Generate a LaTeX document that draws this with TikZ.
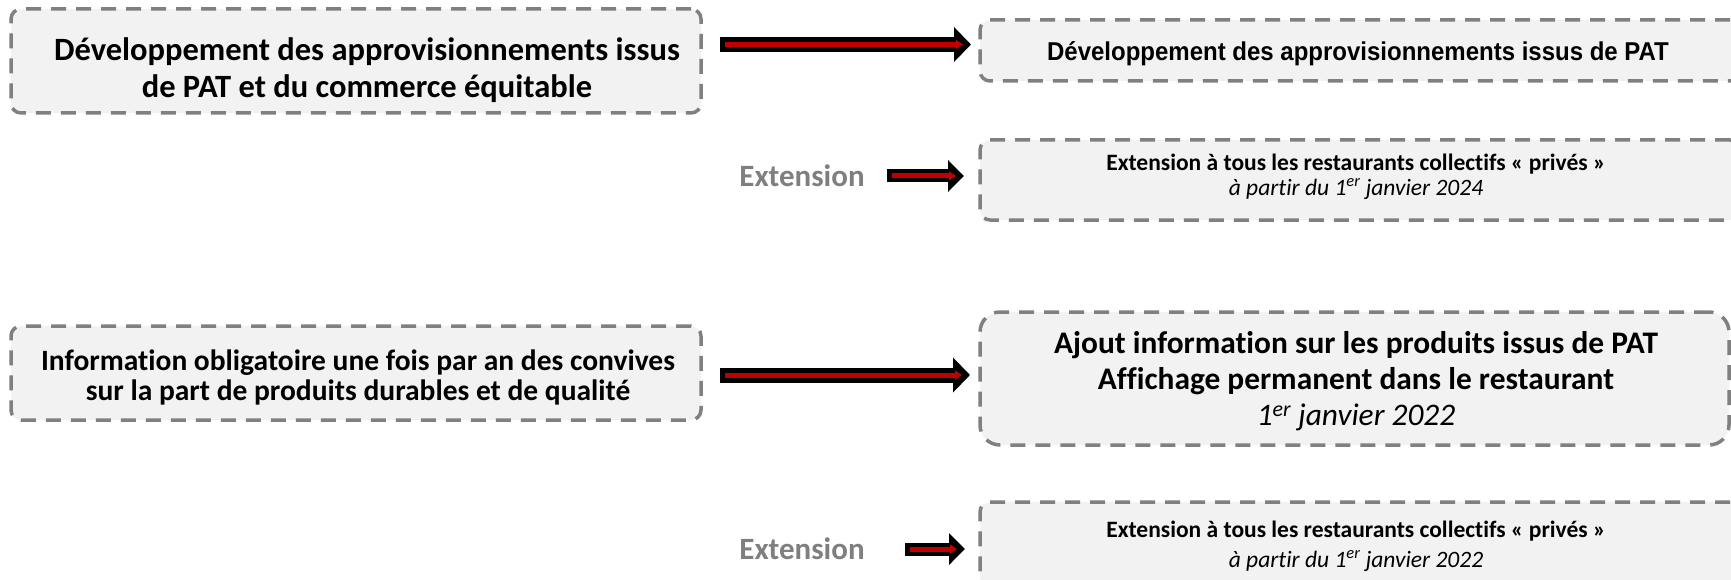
\documentclass[tikz,border=0pt]{standalone}
\usepackage{fontspec}
\setmainfont{Carlito}[Ligatures=NoCommon]
\newfontfamily\arialfam{Liberation Sans}
\usetikzlibrary{arrows.meta}
\definecolor{boxfill}{HTML}{F2F2F2}
\definecolor{boxdraw}{HTML}{808080}
\definecolor{arrred}{HTML}{C00000}
\definecolor{extgray}{HTML}{7F7F7F}
\tikzset{
  dbox/.style={draw=boxdraw, fill=boxfill, line width=3.5pt, dash pattern=on 15pt off 10pt,
    rounded corners=10pt, inner sep=0pt},
  btext/.style={align=center, text=black, inner sep=0pt},
  fatarrow/.style={line width=15pt, draw=black, -{Triangle[length=17pt,width=34pt]}},
  smallfat/.style={line width=13pt, draw=black, -{Triangle[length=16pt,width=31pt]}},
  redline/.style={line width=5pt, draw=arrred, -{Triangle[length=7pt,width=9pt]}},
  extlabel/.style={text=extgray, font=\fontsize{31}{36}\selectfont\bfseries, inner sep=0pt}
}
\begin{document}
\begin{tikzpicture}[x=1pt,y=-1pt]
\useasboundingbox (0,0) rectangle (1731,580);
\clip (0,0) rectangle (1731,580);
% boxes
\node[dbox, minimum width=690pt, minimum height=104pt] (b1) at (356,61) {};
\node[dbox, minimum width=690pt, minimum height=94pt] (b4) at (356,373) {};
\node[dbox, minimum width=760pt, minimum height=61pt] (b2) at (1360,50.5) {};
\node[dbox, minimum width=760pt, minimum height=80pt] (b3) at (1360,180) {};
\node[dbox, rounded corners=20pt, minimum width=749pt, minimum height=133pt] (b5) at (1354.5,378.5) {};
\node[dbox, minimum width=760pt, minimum height=86pt] (b6) at (1360,545) {};
% texts
\node[btext, font=\fontsize{32.5}{37}\selectfont\bfseries] (t1) at (367,70)
  {Développement des approvisionnements issus\\de PAT et du commerce équitable};
\node[btext, font=\fontsize{29.5}{30}\selectfont\bfseries] (t4) at (358,377)
  {Information obligatoire une fois par an des convives\\sur la part de produits durables et de qualité};
\node[btext] (t2) at (1358,54)
  {\arialfam\fontsize{25.8}{30}\selectfont\bfseries\scalebox{0.93}[1]{Développement des approvisionnements issus de PAT}};
\node[btext, font=\fontsize{23.5}{25.5}\selectfont] (t3) at (1356,177)
  {\textbf{Extension à tous les restaurants collectifs « privés »}\\\textit{à partir du 1\textsuperscript{er} janvier 2024}};
\node[btext, font=\fontsize{31.4}{36}\selectfont] (t5) at (1356,381)
  {\textbf{Ajout information sur les produits issus de PAT}\\\textbf{Affichage permanent dans le restaurant}\\\textit{1\textsuperscript{er} janvier 2022}};
\node[btext, font=\fontsize{23.5}{30.5}\selectfont] (t6) at (1356,546.5)
  {\textbf{Extension à tous les restaurants collectifs « privés »}\\\textit{à partir du 1\textsuperscript{er} janvier 2022}};
% extension labels
\node[extlabel] (e1) at (802,175.5) {Extension};
\node[extlabel] (e2) at (802,549) {Extension};
% arrow end points
\coordinate (a1s) at (720,44.5);
\coordinate (a1e) at (971,44.5);
\coordinate (a2s) at (720,375);
\coordinate (a2e) at (970,375);
\coordinate (a3s) at (887,176);
\coordinate (a3e) at (964,176);
\coordinate (a4s) at (905,549);
\coordinate (a4e) at (965,549);
% arrows
\draw[fatarrow] (a1s) -- (a1e);
\draw[redline] ([xshift=5pt]a1s) -- ([xshift=-8pt]a1e);
\draw[fatarrow] (a2s) -- (a2e);
\draw[redline] ([xshift=5pt]a2s) -- ([xshift=-8pt]a2e);
\draw[smallfat] (a3s) -- (a3e);
\draw[redline] ([xshift=5pt]a3s) -- ([xshift=-8pt]a3e);
\draw[smallfat] (a4s) -- (a4e);
\draw[redline] ([xshift=5pt]a4s) -- ([xshift=-8pt]a4e);
\end{tikzpicture}
\end{document}
